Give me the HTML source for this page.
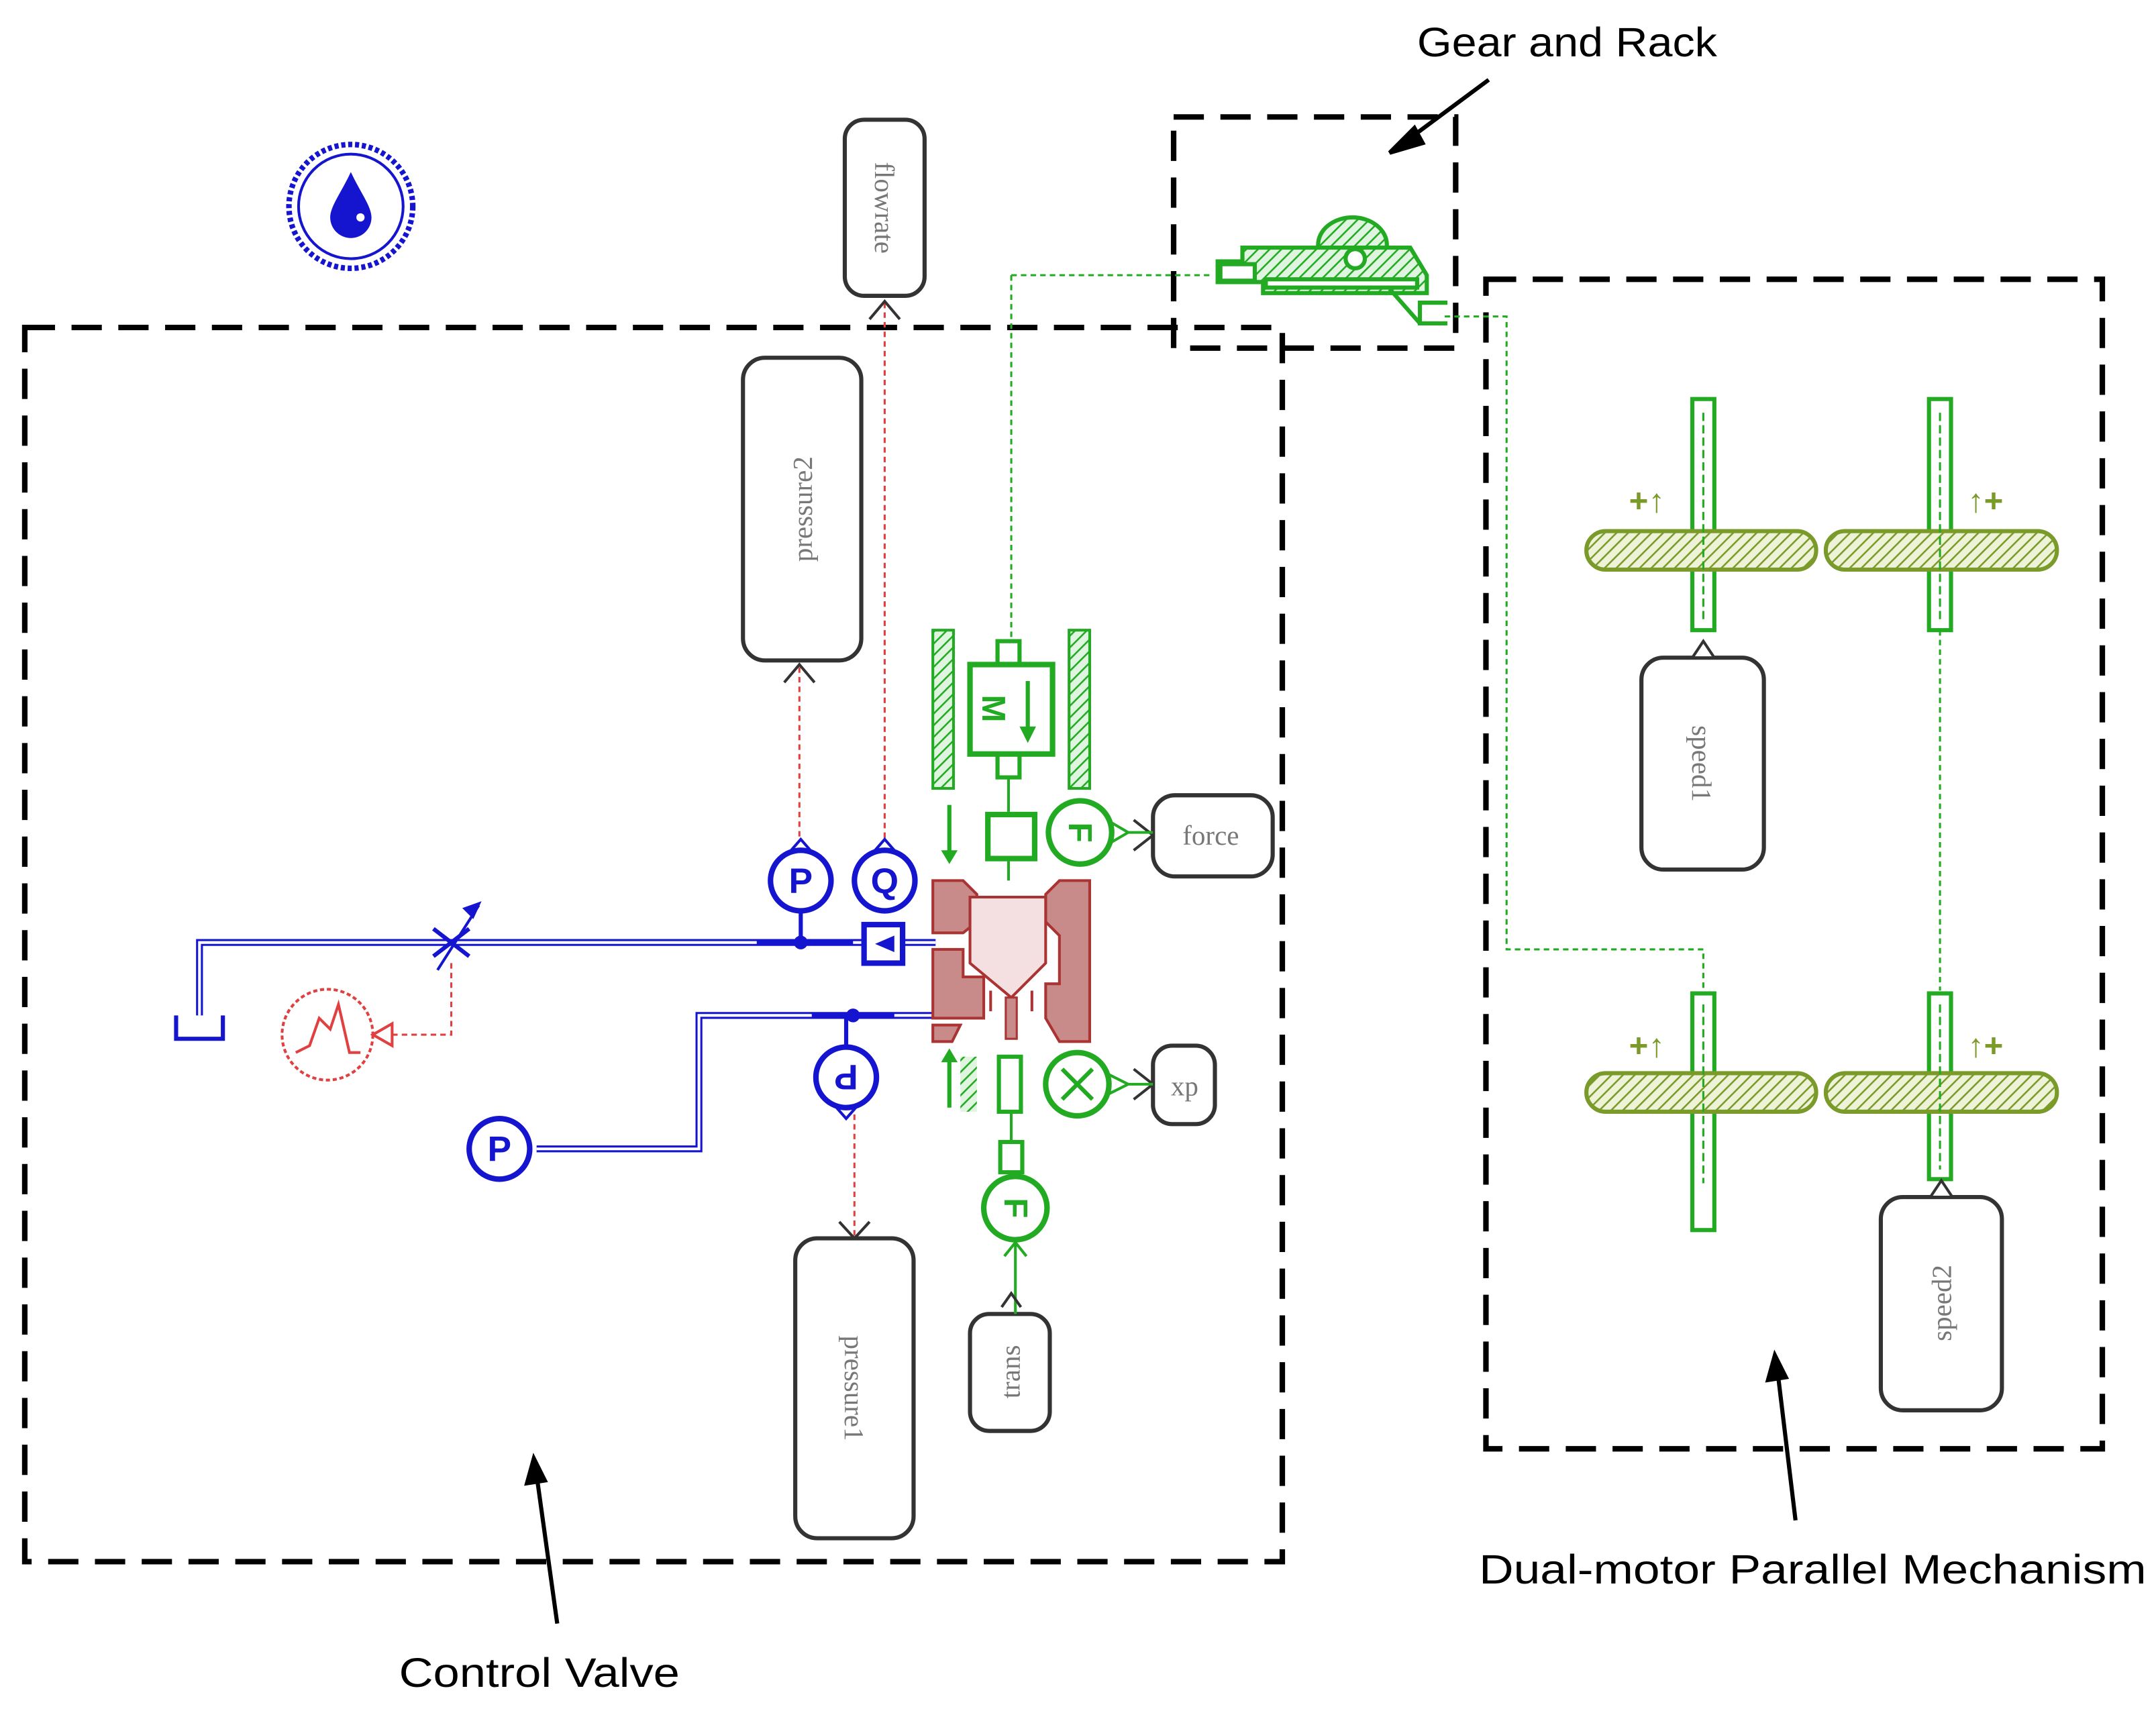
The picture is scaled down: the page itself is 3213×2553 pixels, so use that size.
<!DOCTYPE html>
<html><head><meta charset="utf-8"><style>html,body{margin:0;padding:0;background:#fff}svg{display:block}</style></head><body>
<svg width="3213" height="2553" viewBox="0 0 1567 1245" preserveAspectRatio="none" xmlns="http://www.w3.org/2000/svg" font-family="Liberation Sans, sans-serif">
<defs>
<pattern id="hg" width="6" height="6" patternUnits="userSpaceOnUse" patternTransform="rotate(45)"><rect width="6" height="6" fill="#dff5df"/><line x1="0" y1="0" x2="0" y2="6" stroke="#22aa22" stroke-width="2.5"/></pattern>
<pattern id="ho" width="6" height="6" patternUnits="userSpaceOnUse" patternTransform="rotate(45)"><rect width="6" height="6" fill="#eef3d8"/><line x1="0" y1="0" x2="0" y2="6" stroke="#7a9a2a" stroke-width="2.5"/></pattern>
</defs>
<g fill="none" stroke="#000" stroke-width="4" stroke-dasharray="22 12">
<rect x="18" y="238" width="914" height="897"/>
<rect x="853" y="85" width="205" height="168"/>
<rect x="1080" y="203" width="448" height="850"/>
</g>
<g font-size="30" fill="#000">
<text x="1030" y="41" textLength="218" lengthAdjust="spacingAndGlyphs">Gear and Rack</text>
<text x="290" y="1226" textLength="204" lengthAdjust="spacingAndGlyphs">Control Valve</text>
<text x="1075" y="1151" textLength="485" lengthAdjust="spacingAndGlyphs">Dual-motor Parallel Mechanism</text>
</g>
<g stroke="#000" stroke-width="3" fill="#000">
<line x1="1082" y1="58" x2="1020" y2="104"/><polygon points="1010,111 1028,93 1034,104"/>
<line x1="405" y1="1180" x2="390" y2="1072"/><polygon points="388,1060 383,1078 396,1076"/>
<line x1="1305" y1="1105" x2="1292" y2="997"/><polygon points="1290,985 1285,1003 1298,1001"/>
</g>
<circle cx="255" cy="150" r="45" fill="none" stroke="#1515d0" stroke-width="4" stroke-dasharray="3 2"/>
<circle cx="255" cy="150" r="38" fill="none" stroke="#1515d0" stroke-width="2"/>
<path d="M255,125 C248,140 240,150 240,158 A15,15 0 0 0 270,158 C270,150 262,140 255,125Z" fill="#1515d0"/>
<circle cx="262" cy="158" r="3" fill="#fff"/>
<g fill="#fff" stroke="#333" stroke-width="3">
<rect x="614" y="87" width="58" height="128" rx="14"/>
<rect x="540" y="260" width="86" height="220" rx="16"/>
<rect x="578" y="900" width="86" height="218" rx="16"/>
<rect x="838" y="578" width="87" height="59" rx="16"/>
<rect x="838" y="760" width="45" height="57" rx="14"/>
<rect x="705" y="955" width="58" height="85" rx="14"/>
<rect x="1193" y="478" width="89" height="154" rx="16"/>
<rect x="1367" y="870" width="88" height="155" rx="16"/>
</g>
<g font-family="Liberation Serif, serif" font-size="20" fill="#777" text-anchor="middle">
<text transform="translate(643,151) rotate(90)" dy="7">flowrate</text>
<text transform="translate(583,370) rotate(-90)" dy="7">pressure2</text>
<text transform="translate(621,1009) rotate(90)" dy="7">pressure1</text>
<text x="880" y="614">force</text>
<text x="861" y="796">xp</text>
<text transform="translate(734,997) rotate(-90)" dy="7">trans</text>
<text transform="translate(1237,555) rotate(90)" dy="7">speed1</text>
<text transform="translate(1411,947) rotate(-90)" dy="7">speed2</text>
</g>
<g stroke="#e04040" stroke-width="1.5" stroke-dasharray="4 3" fill="none">
<line x1="581" y1="485" x2="581" y2="612"/>
<line x1="643" y1="220" x2="643" y2="612"/>
<line x1="621" y1="810" x2="621" y2="898"/>
<polyline points="285,752 328,752 328,700"/>
</g>
<g stroke="#333" stroke-width="2" fill="none">
<polyline points="570,496 581,483 592,496"/><polyline points="632,232 643,219 654,232"/>
<polyline points="610,888 621,900 632,888"/>
<polyline points="824,596 838,607 824,618"/><polyline points="824,777 838,788 824,799"/>
</g>
<g stroke="#1515d0" fill="none">
<polyline points="680,685 145,685 145,738" stroke-width="5"/>
<polyline points="680,685 145,685 145,738" stroke="#fff" stroke-width="2"/>
<polyline points="680,738 508,738 508,835 390,835" stroke-width="5"/>
<polyline points="680,738 508,738 508,835 390,835" stroke="#fff" stroke-width="2"/>
<line x1="550" y1="685" x2="620" y2="685" stroke-width="4"/>
<line x1="590" y1="738" x2="650" y2="738" stroke-width="4"/>
<polyline points="128,738 128,755 162,755 162,738" stroke-width="3"/>
<path d="M315,675 L341,695 M315,695 L341,675" stroke-width="3"/>
<line x1="318" y1="705" x2="348" y2="658" stroke-width="2"/>
<circle cx="582" cy="640" r="22" stroke-width="4" fill="#fff"/>
<circle cx="643" cy="640" r="22" stroke-width="4" fill="#fff"/>
<circle cx="615" cy="783" r="22" stroke-width="4" fill="#fff"/>
<circle cx="363" cy="835" r="22" stroke-width="4" fill="#fff"/>
<line x1="582" y1="662" x2="582" y2="685" stroke-width="3"/>
<line x1="615" y1="738" x2="615" y2="761" stroke-width="3"/>
<rect x="628" y="672" width="28" height="28" stroke-width="4" fill="#fff"/>
<polygon points="575,618 582,610 589,618" stroke-width="2"/><polygon points="636,618 643,610 650,618" stroke-width="2"/>
<polygon points="608,805 615,813 622,805" stroke-width="2"/>
</g>
<polygon points="336,660 350,655 344,668" fill="#1515d0"/>
<circle cx="582" cy="685" r="5" fill="#1515d0"/><circle cx="620" cy="738" r="5" fill="#1515d0"/>
<polygon points="636,686 650,680 650,692" fill="#1515d0"/>
<g fill="#1515d0" font-size="26" text-anchor="middle" font-weight="bold">
<text x="582" y="649">P</text><text x="643" y="649">Q</text><text x="363" y="844">P</text>
<text transform="translate(615,783) rotate(180)" dy="9">P</text>
</g>
<circle cx="238" cy="752" r="33" fill="none" stroke="#e04040" stroke-width="2" stroke-dasharray="3 2"/>
<polyline points="215,765 225,760 232,740 240,748 246,730 254,765 262,765" fill="none" stroke="#e04040" stroke-width="2"/>
<polygon points="271,752 285,744 285,760" fill="none" stroke="#e04040" stroke-width="2"/>
<g fill="#c98a8a" stroke="#a33" stroke-width="2">
<path d="M678,640 L700,640 L710,650 L710,670 L700,678 L678,678Z"/>
<path d="M678,690 L700,690 L700,710 L715,710 L715,740 L678,740Z"/>
<path d="M792,640 L770,640 L760,650 L760,670 L770,680 L770,715 L760,715 L760,740 L770,757 L792,757Z"/>
<path d="M678,745 L698,745 L692,757 L678,757Z"/>
</g>
<path d="M705,652 L760,652 L760,700 L735,725 L705,700Z" fill="#f4e0e0" stroke="#a33" stroke-width="2"/>
<rect x="731" y="725" width="8" height="30" fill="#c98a8a" stroke="#a33" stroke-width="1.5"/>
<g stroke="#a33" stroke-width="2"><line x1="720" y1="735" x2="720" y2="720"/><line x1="750" y1="735" x2="750" y2="720"/></g>
<g stroke="#22aa22" fill="none">
<line x1="735" y1="200" x2="735" y2="465" stroke-width="1.5" stroke-dasharray="4 3"/>
<line x1="735" y1="200" x2="880" y2="200" stroke-width="1.5" stroke-dasharray="4 3"/>
<polyline points="1050,230 1095,230 1095,690 1238,690 1238,720" stroke-width="1.5" stroke-dasharray="4 3"/>
<line x1="1410" y1="458" x2="1410" y2="720" stroke-width="1.5" stroke-dasharray="4 3"/>
<rect x="678" y="458" width="15" height="115" fill="url(#hg)" stroke-width="2"/>
<rect x="777" y="458" width="15" height="115" fill="url(#hg)" stroke-width="2"/>
<rect x="705" y="483" width="60" height="65" stroke-width="4" fill="#fff"/>
<rect x="725" y="466" width="16" height="17" stroke-width="3"/>
<rect x="725" y="548" width="16" height="17" stroke-width="3"/>
<line x1="733" y1="565" x2="733" y2="590" stroke-width="2"/>
<rect x="718" y="592" width="34" height="32" stroke-width="4" fill="#fff"/>
<line x1="733" y1="625" x2="733" y2="640" stroke-width="2"/>
<circle cx="785" cy="605" r="23" stroke-width="4" fill="#fff"/>
<polygon points="808,598 820,605 808,612" stroke-width="2"/>
<line x1="820" y1="605" x2="838" y2="605" stroke-width="2"/>
<line x1="747" y1="495" x2="747" y2="530" stroke-width="3"/>
<line x1="690" y1="585" x2="690" y2="620" stroke-width="3"/>
<line x1="690" y1="770" x2="690" y2="805" stroke-width="3"/>
<rect x="726" y="768" width="16" height="40" stroke-width="3" fill="#fff"/>
<rect x="698" y="768" width="12" height="40" fill="url(#hg)" stroke="none"/>
<circle cx="783" cy="788" r="23" stroke-width="4" fill="#fff"/>
<path d="M772,777 L794,799 M794,777 L772,799" stroke-width="3"/>
<polygon points="806,781 820,788 806,795" stroke-width="2"/>
<line x1="820" y1="788" x2="838" y2="788" stroke-width="2"/>
<line x1="735" y1="808" x2="735" y2="830" stroke-width="2"/>
<rect x="727" y="830" width="16" height="22" stroke-width="3"/>
<circle cx="738" cy="878" r="23" stroke-width="4" fill="#fff"/>
<line x1="738" y1="901" x2="738" y2="955" stroke-width="2"/>
<polyline points="730,913 738,903 746,913" stroke-width="2"/>
<polyline points="728,950 735,940 742,950" stroke="#333" stroke-width="2"/>
</g>
<g fill="#22aa22"><polygon points="741,528 753,528 747,540"/><polygon points="684,618 696,618 690,628"/><polygon points="684,772 696,772 690,762"/></g>
<g fill="#22aa22" font-size="24" font-weight="bold" text-anchor="middle">
<text transform="translate(722,515) rotate(90)" dy="8">M</text>
<text transform="translate(785,605) rotate(90)" dy="8">F</text>
<text transform="translate(738,878) rotate(90)" dy="8">F</text>
</g>
<g stroke="#22aa22" stroke-width="3">
<ellipse cx="983" cy="178" rx="25" ry="20" fill="url(#hg)"/>
<path d="M885,190 L903,190 L903,180 L1025,180 L1037,200 L1037,213 L918,213 L918,205 L885,205Z" fill="url(#hg)"/>
<rect x="887" y="192" width="25" height="12" fill="#fff"/>
<rect x="920" y="203" width="110" height="6" fill="#fff"/>
<circle cx="985" cy="188" r="7" fill="#fff"/>
<line x1="1010" y1="210" x2="1032" y2="235"/>
<polyline points="1052,220 1032,220 1032,235 1052,235" fill="none"/>
</g>
<g stroke="#22aa22" stroke-width="3" fill="#fff">
<rect x="1230" y="290" width="16" height="168"/>
<rect x="1402" y="290" width="16" height="168"/>
<rect x="1230" y="722" width="16" height="172"/>
<rect x="1402" y="722" width="16" height="135"/>
</g>
<g stroke="#7a9a2a" stroke-width="3" fill="url(#ho)">
<rect x="1153" y="386" width="167" height="28" rx="14"/>
<rect x="1327" y="386" width="168" height="28" rx="14"/>
<rect x="1153" y="780" width="167" height="28" rx="14"/>
<rect x="1327" y="780" width="168" height="28" rx="14"/>
</g>
<g stroke="#22aa22" stroke-width="1.5" stroke-dasharray="6 3">
<line x1="1238" y1="300" x2="1238" y2="450"/><line x1="1410" y1="300" x2="1410" y2="450"/>
<line x1="1238" y1="730" x2="1238" y2="860"/><line x1="1410" y1="730" x2="1410" y2="850"/>
</g>
<g fill="#7a9a2a" font-size="24" font-weight="bold">
<text x="1184" y="372">+↑</text><text x="1430" y="372">↑+</text>
<text x="1184" y="768">+↑</text><text x="1430" y="768">↑+</text>
</g>
<g stroke="#333" stroke-width="2" fill="#fff">
<polygon points="1230,478 1238,466 1246,478"/><polygon points="1403,870 1411,858 1419,870"/>
</g>
</svg>
</body></html>
